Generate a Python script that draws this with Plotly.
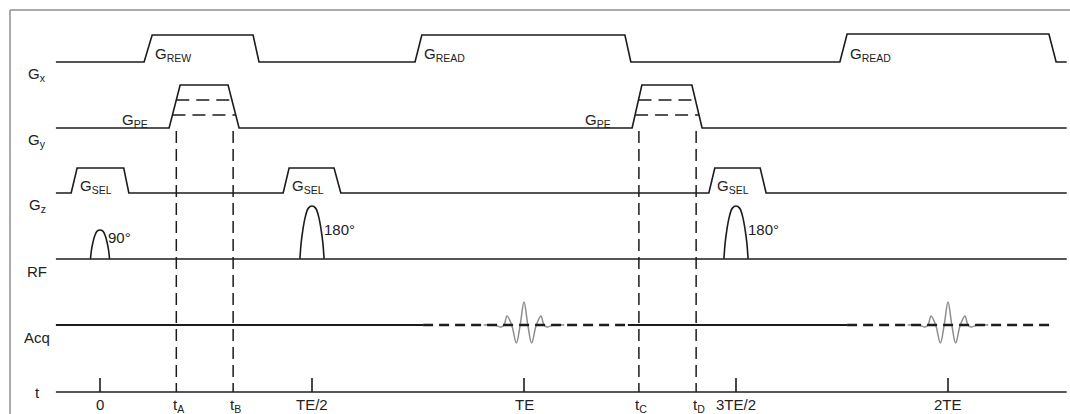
import plotly.graph_objects as go

# ---------------- data (time unit: TE = 100) ----------------
tick_times = [0, 50, 100, 150, 200]
tick_labels = ["0", "TE/2", "TE", "3TE/2", "2TE"]
event_times = [18.0, 31.4, 127.1, 140.6]
event_labels = ["t<sub>A</sub>", "t<sub>B</sub>", "t<sub>C</sub>", "t<sub>D</sub>"]

row_labels = ["G<sub>x</sub>", "G<sub>y</sub>", "G<sub>z</sub>", "RF", "Acq", "t"]

gx_names = ["G<sub>REW</sub>", "G<sub>READ</sub>", "G<sub>READ</sub>"]
gx_ramps = [[10.4, 12.3, 36.1, 37.5], [74.3, 75.9, 123.8, 125.2], [174.5, 176.2, 223.8, 225.5]]
gx_amps = [27, 27, 28]

gy_names = ["G<sub>PE</sub>", "G<sub>PE</sub>"]
gy_ramps = [[16.3, 18.9, 30.2, 32.8], [125.5, 127.8, 139.6, 142.0]]
gy_amps = [43, 43]
gy_steps = [28, 13]

gz_names = ["G<sub>SEL</sub>", "G<sub>SEL</sub>", "G<sub>SEL</sub>"]
gz_ramps = [[-6.8, -5.4, 5.6, 6.8], [43.2, 44.6, 55.2, 56.8], [143.6, 145.0, 155.7, 157.1]]
gz_amps = [25, 25, 25]

rf_centers = [0, 50, 150]
rf_halfwidths = [2.25, 2.85, 2.85]
rf_amps = [29, 53, 53]
rf_names = ["90°", "180°", "180°"]
rf_shape_pos = [-1, -0.9, -0.75, -0.55, -0.3, 0, 0.3, 0.55, 0.75, 0.9, 1]
rf_shape_val = [0, 0.3, 0.56, 0.8, 0.96, 1, 0.96, 0.8, 0.56, 0.3, 0]

echo_centers = [100, 200]
echo_offsets = [-9.5, -7, -5.4, -4.7, -4.0, -2.9, -1.8, -0.9, 0, 0.9, 1.8, 2.9, 4.0, 4.7, 5.4, 7, 9.5]
echo_amps = [0, 0, -2, 0, 9, 0, -18, 0, 23, 0, -18, 0, 9, 0, -2, 0, 0]

acq_solid = [[-10.4, 76.2], [124.5, 176.2]]
acq_dashed = [[76.2, 124.5], [176.2, 224.8]]

line_start, line_end = -10.4, 228.0

# ---------------- layout helpers ----------------
W, H = 1070, 414
PX0 = 100.0      # pixel of t=0
PXU = 4.24       # pixels per time unit
row_base = [62, 128, 193, 259, 325, 392]   # baseline pixel rows
INK = "#1c1c1c"
FONT = dict(family="Liberation Sans, Arial, sans-serif", size=15, color="#222222")

fig = go.Figure()


def add_line(xs, ys, dash=None, width=1.6, color=INK, shape="linear"):
    fig.add_trace(go.Scatter(x=xs, y=ys, mode="lines",
                             line=dict(color=color, width=width, dash=dash, shape=shape),
                             hoverinfo="skip", showlegend=False))


def trap_row(base, ramps, amps):
    xs, ys = [line_start], [base]
    for r, a in zip(ramps, amps):
        xs += [r[0], r[1], r[2], r[3]]
        ys += [base, base - a, base - a, base]
    xs.append(line_end)
    ys.append(base)
    add_line(xs, ys)


# gradient rows
trap_row(row_base[0], gx_ramps, gx_amps)
trap_row(row_base[1], gy_ramps, gy_amps)
trap_row(row_base[2], gz_ramps, gz_amps)

# phase-encode steps
for r, a in zip(gy_ramps, gy_amps):
    for h in gy_steps:
        xl = r[0] + (r[1] - r[0]) * h / a
        xr = r[3] - (r[3] - r[2]) * h / a
        add_line([xl, xr], [row_base[1] - h] * 2, dash="13px,7px", width=1.5)

# RF row
add_line([line_start, line_end], [row_base[3]] * 2)
for c, hw, a in zip(rf_centers, rf_halfwidths, rf_amps):
    add_line([c + p * hw for p in rf_shape_pos],
             [row_base[3] - v * a for v in rf_shape_val], shape="spline")

# echoes
for c in echo_centers:
    add_line([c + o for o in echo_offsets], [row_base[4] - v for v in echo_amps],
             color="#8c8c8c", width=1.5, shape="spline")

# acquisition row
for s in acq_solid:
    add_line(s, [row_base[4]] * 2, width=2)
for s in acq_dashed:
    add_line(s, [row_base[4]] * 2, dash="10px,6px", width=2.6)

# time axis
add_line([line_start, line_end], [row_base[5]] * 2)
for t in tick_times:
    add_line([t, t], [row_base[5] - 14, row_base[5]])

# event markers
for t in event_times:
    add_line([t, t], [row_base[1] + 3, row_base[5]], dash="12px,6px", width=1.5)

ann = []
tx = lambda px: (px - PX0) / PXU
for lab, b in zip(row_labels, row_base):
    dy = 0 if lab == "t" else 12
    ann.append(dict(x=tx(37), y=b + dy, text=lab, xanchor="center", yanchor="middle"))
for lab, r in zip(gx_names, gx_ramps):
    ann.append(dict(x=r[1] + 0.1, y=row_base[0] - 8, text=lab, xanchor="left", yanchor="middle"))
for lab, r in zip(gy_names, gy_ramps):
    ann.append(dict(x=r[0] - 4.4, y=row_base[1] - 8, text=lab, xanchor="right", yanchor="middle"))
for lab, r in zip(gz_names, gz_ramps):
    ann.append(dict(x=r[1] + 0.1, y=row_base[2] - 7, text=lab, xanchor="left", yanchor="middle"))
for lab, c, hw, dy in zip(rf_names, rf_centers, rf_halfwidths, [22, 30, 30]):
    ann.append(dict(x=c + hw * 0.55 + (0.2 if hw < 2.5 else 0.9), y=row_base[3] - dy,
                    text=lab, xanchor="left", yanchor="middle"))
for lab, t in zip(tick_labels, tick_times):
    ann.append(dict(x=t, y=row_base[5] + 12, text=lab, xanchor="center", yanchor="middle"))
for lab, t in zip(event_labels, event_times):
    ann.append(dict(x=t + 0.6, y=row_base[5] + 13, text=lab, xanchor="center", yanchor="middle"))

for a in ann:
    a.update(xref="x", yref="y", showarrow=False, font=FONT)

# frame (top and left border)
shapes = [
    dict(type="line", xref="paper", yref="paper", x0=10 / W, x1=1, y0=1 - 10 / H, y1=1 - 10 / H,
         line=dict(color="#8f8f8f", width=1.5)),
    dict(type="line", xref="paper", yref="paper", x0=10 / W, x1=10 / W, y0=0, y1=1 - 10 / H,
         line=dict(color="#8f8f8f", width=1.5)),
]

fig.update_layout(
    width=W, height=H, margin=dict(l=0, r=0, t=0, b=0),
    paper_bgcolor="white", plot_bgcolor="white",
    xaxis=dict(range=[tx(0), tx(W)], visible=False, fixedrange=True),
    yaxis=dict(range=[H, 0], visible=False, fixedrange=True),
    annotations=ann, shapes=shapes, showlegend=False,
)

fig.write_html("out.html", config={"displayModeBar": False},
               post_script="document.body.style.margin='0';document.body.style.overflow='hidden';")
